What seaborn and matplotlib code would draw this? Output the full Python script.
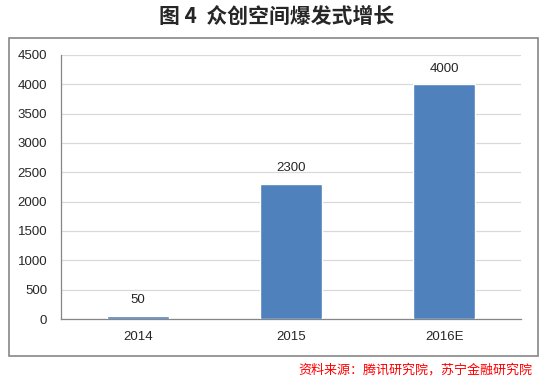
import matplotlib
matplotlib.use("Agg")
import matplotlib.pyplot as plt
import seaborn as sns
import pandas as pd
from matplotlib.patches import Rectangle

categories = ["2014", "2015", "2016E"]
values = [50, 2300, 4000]
yticks = [0, 500, 1000, 1500, 2000, 2500, 3000, 3500, 4000, 4500]

sns.set_style("white")
plt.rcParams['font.family'] = ['Noto Sans CJK SC', 'DejaVu Sans']

fig = plt.figure(figsize=(5.44, 3.80), dpi=100)
ax = fig.add_axes([61/544, 1-319/380, 460/544, (319-55)/380])

df = pd.DataFrame({"cat": categories, "val": values})
sns.barplot(data=df, x="cat", y="val", color="#4F81BD", saturation=1, width=0.405, ax=ax, zorder=3)

ax.set_ylim(0, 4500)
ax.set_xlim(-0.5, 2.5)
ax.set_yticks(yticks)
ax.set_yticklabels([str(t) for t in yticks], fontsize=9.5, family=['Liberation Sans', 'DejaVu Sans'])
ax.set_xticks([-0.5, 0.5, 1.5, 2.5], minor=False)
ax.set_xticklabels([])
ax.set_xticks([0, 1, 2], minor=True)
ax.set_xticklabels(categories, minor=True, fontsize=9.5, family=['Liberation Sans', 'DejaVu Sans'])
ax.tick_params(axis='x', which='minor', length=0, pad=9)
ax.tick_params(axis='x', which='major', length=4, color='#868686', direction='out')
ax.tick_params(axis='y', length=4, color='#868686', direction='out', pad=6)
ax.set_xlabel("")
ax.set_ylabel("")
ax.grid(axis='y', color='#D9D9D9', linewidth=0.9, zorder=0)
ax.set_axisbelow(True)
for s in ['top', 'right']:
    ax.spines[s].set_visible(False)
for s in ['left', 'bottom']:
    ax.spines[s].set_color('#868686')
    ax.spines[s].set_linewidth(0.9)

for i, v in enumerate(values):
    ax.annotate(str(v), (i, v), xytext=(0, 7), textcoords='offset points',
                ha='center', va='bottom', fontsize=9.5, family=['Liberation Sans', 'DejaVu Sans'])

# outer frame
fig.patches.append(Rectangle((9/544, 1-356/380), (538-9)/544, (356-38)/380,
                             transform=fig.transFigure, fill=False, edgecolor='#868686', linewidth=1.2))

fig.text(277/544, 1-16/380, "图 4  众创空间爆发式增长", ha='center', va='center',
         fontsize=15, fontweight='bold', family=['Noto Sans CJK SC', 'DejaVu Sans'])
fig.text(532/544, 1-370/380, "资料来源：腾讯研究院，苏宁金融研究院", ha='right', va='center',
         fontsize=9.4, style='italic', color='#FF0000', family=['Noto Sans CJK SC', 'DejaVu Sans'])

fig.savefig("out.png", dpi=100)
